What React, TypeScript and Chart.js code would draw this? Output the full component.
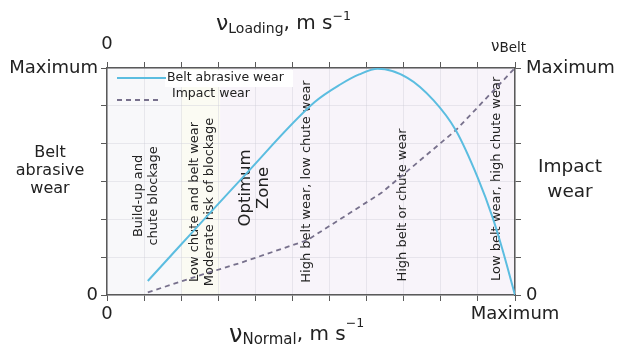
import React, { useEffect, useRef } from "react";
import { Chart, registerables } from "chart.js";

Chart.register(...registerables);

// ---- data (x: normal velocity units 0..11, y: wear units 0..6) ----
const beltX = [1.1, 3.7, 5.6, 6.3, 6.8, 7.3, 8.1, 8.8, 9.4, 10.0, 10.4, 10.65, 11];
const beltY = [0.37, 3.15, 5.1, 5.57, 5.83, 5.98, 5.74, 5.15, 4.36, 3.09, 2.04, 1.24, 0];
const impactX = [1.1, 2.6, 3.6, 5.4, 7.4, 9.4, 11];
const impactY = [0.07, 0.55, 0.85, 1.45, 2.7, 4.35, 6];
const seriesNames = ["Belt abrasive wear", "Impact wear"];
const xMin = 0;
const xMax = 11;
const yMin = 0;
const yMax = 6;
const endLabelMin = "0";
const endLabelMax = "Maximum";
const zoneLabels = [
  { lines: ["Build-up and", "chute blockage"], x: 1.05, y: 2.62, size: 13 },
  { lines: ["Low chute and belt wear", "Moderate risk of blockage"], x: 2.56, y: 2.46, size: 13 },
  { lines: ["Optimum", "Zone"], x: 3.98, y: 2.83, size: 16.5 },
  { lines: ["High belt wear, low chute wear"], x: 5.39, y: 3.0, size: 13 },
  { lines: ["High belt or chute wear"], x: 7.98, y: 2.38, size: 13 },
  { lines: ["Low belt wear, high chute wear"], x: 10.51, y: 3.07, size: 13 },
];
const zoneBands = [
  { from: 0, to: 2, color: "#f8f8fa" },
  { from: 2, to: 3.05, color: "#fbfbf3" },
  { from: 3.05, to: 11, color: "#f8f4fa" },
];

const FONT = "'DejaVu Sans', Verdana, sans-serif";
const TEXT = "#222222";
const BLUE = "#5bbde0";
const GREY = "#77708c";

function drawParts(ctx: CanvasRenderingContext2D, x: number, parts: { t: string; size: number; base: number }[]) {
  let cx = x;
  ctx.textAlign = "left";
  ctx.textBaseline = "alphabetic";
  for (const p of parts) {
    ctx.font = `${p.size}px ${FONT}`;
    ctx.fillText(p.t, cx, p.base);
    cx += ctx.measureText(p.t).width;
  }
}

const decor = {
  id: "decor",
  beforeDraw(chart: any) {
    const { ctx, chartArea, scales } = chart;
    ctx.save();
    for (const b of zoneBands) {
      const x1 = scales.x.getPixelForValue(b.from);
      const x2 = scales.x.getPixelForValue(b.to);
      ctx.fillStyle = b.color;
      ctx.fillRect(x1, chartArea.top, x2 - x1, chartArea.bottom - chartArea.top);
    }
    ctx.restore();
  },
  beforeDatasetsDraw(chart: any) {
    const { ctx, scales } = chart;
    ctx.save();
    ctx.fillStyle = TEXT;
    for (const z of zoneLabels) {
      const px = scales.x.getPixelForValue(z.x);
      const py = scales.y.getPixelForValue(z.y);
      ctx.save();
      ctx.translate(px, py);
      ctx.rotate(-Math.PI / 2);
      ctx.font = `${z.size}px ${FONT}`;
      ctx.textAlign = "center";
      ctx.textBaseline = "middle";
      const lh = z.size * 1.12;
      const n = z.lines.length;
      z.lines.forEach((l, i) => {
        ctx.fillText(l, 0, (i - (n - 1) / 2) * lh);
      });
      ctx.restore();
    }
    ctx.restore();
  },
  afterDraw(chart: any) {
    const { ctx } = chart;
    ctx.save();
    // legend
    ctx.fillStyle = "#ffffff";
    ctx.fillRect(165, 70, 128, 17);
    ctx.strokeStyle = BLUE;
    ctx.lineWidth = 2;
    ctx.setLineDash([]);
    ctx.beginPath();
    ctx.moveTo(117, 78);
    ctx.lineTo(166, 78);
    ctx.stroke();
    ctx.strokeStyle = GREY;
    ctx.lineWidth = 1.8;
    ctx.setLineDash([5, 4]);
    ctx.beginPath();
    ctx.moveTo(117, 100);
    ctx.lineTo(158, 100);
    ctx.stroke();
    ctx.setLineDash([]);
    ctx.fillStyle = TEXT;
    ctx.font = `12.5px ${FONT}`;
    ctx.textAlign = "left";
    ctx.textBaseline = "middle";
    ctx.fillText(seriesNames[0], 167, 78);
    ctx.fillText(seriesNames[1], 172, 94);

    // top axis title
    drawParts(ctx, 216, [
      { t: "ν", size: 22, base: 30 },
      { t: "Loading", size: 14, base: 33 },
      { t: ", m s", size: 20, base: 29 },
      { t: "−1", size: 12.5, base: 20 },
    ]);
    // bottom axis title
    drawParts(ctx, 229, [
      { t: "ν", size: 24, base: 342 },
      { t: "Normal", size: 15, base: 344 },
      { t: ", m s", size: 20, base: 340 },
      { t: "−1", size: 12.5, base: 327 },
    ]);
    // v Belt
    drawParts(ctx, 491, [
      { t: "ν", size: 15, base: 51 },
      { t: "Belt", size: 13.5, base: 52 },
    ]);
    // side titles
    ctx.textAlign = "center";
    ctx.textBaseline = "alphabetic";
    ctx.font = `16px ${FONT}`;
    ctx.fillText("Belt", 50, 157);
    ctx.fillText("abrasive", 50, 175);
    ctx.fillText("wear", 50, 193);
    ctx.font = `18.5px ${FONT}`;
    ctx.fillText("Impact", 570, 172);
    ctx.fillText("wear", 570, 197);
    ctx.restore();
  },
};

export default function App() {
  const ref = useRef<HTMLCanvasElement | null>(null);
  useEffect(() => {
    document.body.style.margin = "0";
    const canvas = ref.current;
    if (!canvas) return;
    const minMaxX = (v: number) => (v === xMin ? endLabelMin : v === xMax ? endLabelMax : "");
    const minMaxY = (v: number) => (v === yMin ? endLabelMin : v === yMax ? endLabelMax : "");
    const border = { color: "#5a5a5a", width: 1.5 };
    const tickFont = { family: FONT, size: 18 };
    const gridColor = "rgba(205,205,215,0.4)";
    const chart = new Chart(canvas, {
      type: "line",
      data: {
        datasets: [
          {
            label: seriesNames[0],
            data: beltX.map((x, i) => ({ x, y: beltY[i] })),
            borderColor: BLUE,
            borderWidth: 2,
            pointRadius: 0,
            cubicInterpolationMode: "monotone",
            fill: false,
          },
          {
            label: seriesNames[1],
            data: impactX.map((x, i) => ({ x, y: impactY[i] })),
            borderColor: GREY,
            borderWidth: 1.8,
            borderDash: [5, 4],
            pointRadius: 0,
            tension: 0,
            fill: false,
          },
        ],
      },
      options: {
        animation: false,
        responsive: false,
        layout: { padding: 0 },
        plugins: { legend: { display: false }, tooltip: { enabled: false } },
        scales: {
          x: {
            type: "linear",
            position: "bottom",
            min: xMin,
            max: xMax,
            afterFit: (s: any) => { s.height = 55; },
            border,
            grid: { color: gridColor, tickColor: "#5a5a5a", tickLength: 6, lineWidth: 1 },
            ticks: { stepSize: 1, autoSkip: false, maxRotation: 0, padding: 3, color: TEXT, font: tickFont, callback: (v: any) => minMaxX(Number(v)) },
          },
          x2: {
            type: "linear",
            position: "top",
            min: xMin,
            max: xMax,
            afterFit: (s: any) => { s.height = 68; },
            border,
            grid: { drawOnChartArea: false, tickColor: "#5a5a5a", tickLength: 6 },
            ticks: { stepSize: 1, autoSkip: false, maxRotation: 0, padding: 7, color: TEXT, font: { family: FONT, size: 18 }, callback: (v: any) => (Number(v) === xMin ? endLabelMin : "") },
          },
          y: {
            type: "linear",
            position: "left",
            min: yMin,
            max: yMax,
            afterFit: (s: any) => { s.width = 107; },
            border,
            grid: { color: gridColor, tickColor: "#5a5a5a", tickLength: 6, lineWidth: 1 },
            ticks: { stepSize: 1, autoSkip: false, padding: 3, color: TEXT, font: tickFont, callback: (v: any) => minMaxY(Number(v)) },
          },
          y2: {
            type: "linear",
            position: "right",
            min: yMin,
            max: yMax,
            afterFit: (s: any) => { s.width = 102; },
            border,
            grid: { drawOnChartArea: false, tickColor: "#5a5a5a", tickLength: 6 },
            ticks: { stepSize: 1, autoSkip: false, padding: 5, color: TEXT, font: tickFont, callback: (v: any) => minMaxY(Number(v)) },
          },
        },
      },
      plugins: [decor],
    } as any);
    return () => chart.destroy();
  }, []);
  return <canvas ref={ref} width={617} height={350} style={{ display: "block" }} />;
}
